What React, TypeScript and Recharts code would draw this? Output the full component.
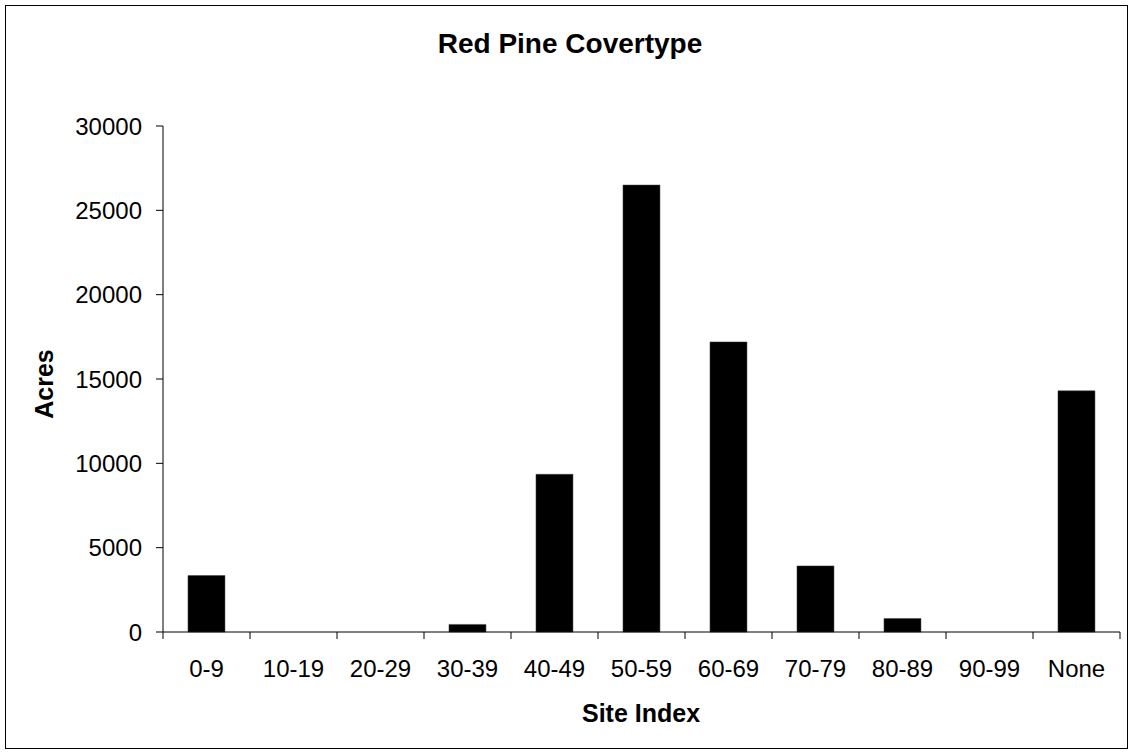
import React from "react";
import { BarChart, Bar, XAxis, YAxis } from "recharts";

const categories = ["0-9", "10-19", "20-29", "30-39", "40-49", "50-59", "60-69", "70-79", "80-89", "90-99", "None"];
const acres = [3350, 0, 0, 450, 9350, 26500, 17200, 3920, 800, 0, 14300];
const yTicks = [0, 5000, 10000, 15000, 20000, 25000, 30000];

const data = categories.map((c, i) => ({ name: c, acres: acres[i] }));

const W = 1134;
const H = 755;
const PLOT_LEFT = 163;
const PLOT_RIGHT = 1120;
const PLOT_TOP = 126;
const PLOT_BOTTOM = 632;
const X_AXIS_H = 60;
const BAND = (PLOT_RIGHT - PLOT_LEFT) / categories.length;
const FONT = "'Liberation Sans', Arial, sans-serif";

const XTick = (props: any) => {
  const { x, payload, index } = props;
  const last = index === categories.length - 1;
  return (
    <g>
      <line x1={x - BAND / 2} x2={x - BAND / 2} y1={PLOT_BOTTOM} y2={PLOT_BOTTOM + 7} stroke="#000" strokeWidth={1} />
      {last && (
        <line x1={x + BAND / 2} x2={x + BAND / 2} y1={PLOT_BOTTOM} y2={PLOT_BOTTOM + 7} stroke="#000" strokeWidth={1} />
      )}
      <text x={x} y={PLOT_BOTTOM + 45} textAnchor="middle" fontSize={24} fontFamily={FONT} fill="#000">
        {payload.value}
      </text>
    </g>
  );
};

export default function App() {
  return (
    <div style={{ position: "absolute", left: 0, top: 0, width: W, height: H, background: "#fff" }}>
      <div
        style={{
          position: "absolute",
          left: 5,
          top: 5,
          width: 1123,
          height: 744,
          border: "1px solid #000",
          boxSizing: "border-box",
        }}
      />
      <BarChart
        width={W}
        height={H}
        data={data}
        margin={{ top: PLOT_TOP, right: W - PLOT_RIGHT, bottom: H - PLOT_BOTTOM - X_AXIS_H, left: 0 }}
        barCategoryGap="28.7%"
        style={{ position: "absolute", left: 0, top: 0 }}
      >
        <XAxis
          dataKey="name"
          height={X_AXIS_H}
          axisLine={{ stroke: "#000", strokeWidth: 1 }}
          tickLine={false}
          tick={<XTick />}
          interval={0}
        />
        <YAxis
          width={PLOT_LEFT}
          domain={[0, 30000]}
          ticks={yTicks}
          interval={0}
          axisLine={{ stroke: "#000", strokeWidth: 1 }}
          tickLine={{ stroke: "#000", strokeWidth: 1 }}
          tickSize={7}
          tickMargin={14}
          tick={{ fill: "#000", fontSize: 24, fontFamily: FONT }}
        />
        <Bar dataKey="acres" fill="#000" stroke="#444" strokeWidth={0.5} isAnimationActive={false} />
      </BarChart>
      <svg width={W} height={H} style={{ position: "absolute", left: 0, top: 0, pointerEvents: "none" }}>
        <text x={570} y={53} textAnchor="middle" fontSize={28} fontWeight="bold" fontFamily={FONT} fill="#000">
          Red Pine Covertype
        </text>
        <text x={641} y={722} textAnchor="middle" fontSize={25} fontWeight="bold" fontFamily={FONT} fill="#000">
          Site Index
        </text>
        <text
          x={53}
          y={384}
          textAnchor="middle"
          fontSize={25}
          fontWeight="bold"
          fontFamily={FONT}
          fill="#000"
          transform="rotate(-90 53 384)"
        >
          Acres
        </text>
      </svg>
    </div>
  );
}
